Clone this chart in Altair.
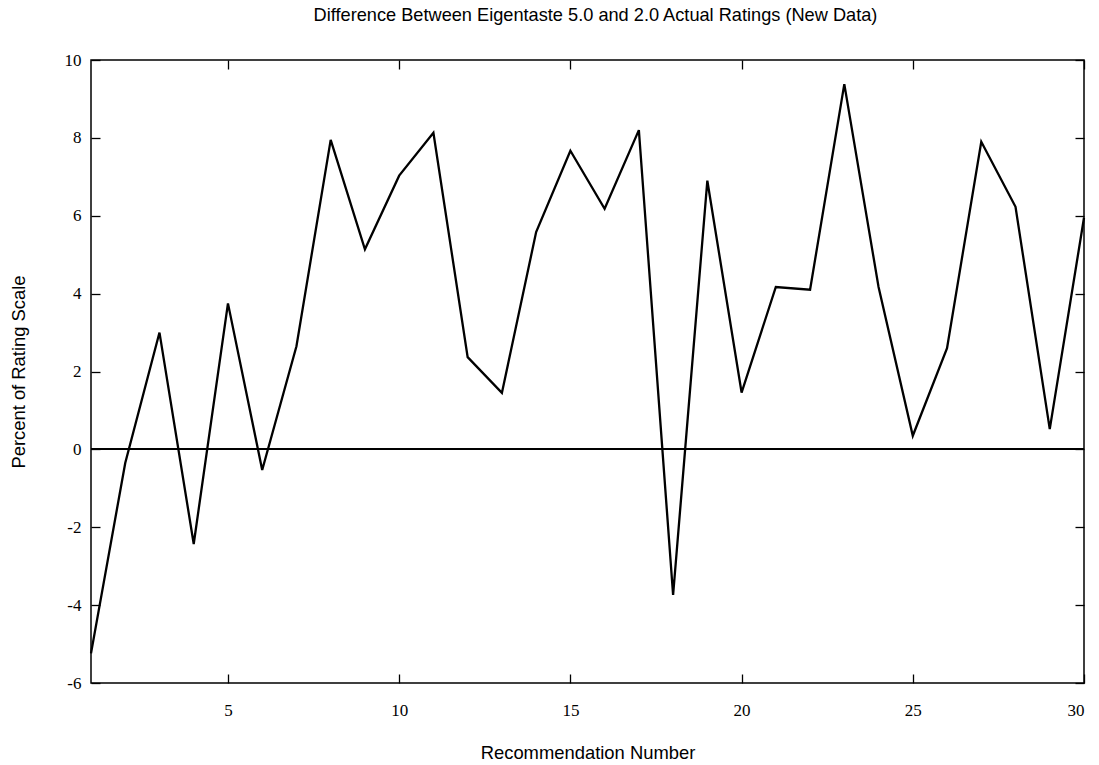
import altair as alt
import pandas as pd

recommendation = list(range(1, 31))
difference = [-5.24, -0.35, 3.0, -2.43, 3.75, -0.53, 2.65, 7.95, 5.14, 7.03,
              8.13, 2.37, 1.45, 5.58, 7.67, 6.18, 8.2, -3.74, 6.9, 1.46,
              4.17, 4.1, 9.38, 4.17, 0.35, 2.6, 7.9, 6.23, 0.52, 5.95]
x_ticks = [5, 10, 15, 20, 25, 30]
y_ticks = [-6, -4, -2, 0, 2, 4, 6, 8, 10]

df = pd.DataFrame({"rec": recommendation, "diff": difference})

SERIF = "Liberation Serif"
SANS = "Liberation Sans"

xscale = alt.Scale(domain=[1, 30], nice=False, zero=False)
yscale = alt.Scale(domain=[-6, 10], nice=False, zero=False)

common_axis = dict(domain=False, grid=False, tickColor="black", tickWidth=1.3,
                   tickSize=9, offset=-9, labelFont=SERIF, labelFontSize=17,
                   labelColor="black", titleFont=SANS, titleFontSize=18.4,
                   titleFontWeight="normal", titleColor="black")

zero = alt.Chart(df).mark_rule(color="black", strokeWidth=1).encode(
    y=alt.datum(0, scale=yscale, axis=None)
)

main = alt.Chart(df).mark_line(color="black", strokeWidth=2.3).encode(
    x=alt.X("rec:Q", scale=xscale,
            axis=alt.Axis(orient="bottom", values=x_ticks, title="Recommendation Number",
                          labelPadding=19, titleBaseline="middle", titleY=78,
                          labelExpr="'' + datum.value", **common_axis)),
    y=alt.Y("diff:Q", scale=yscale,
            axis=alt.Axis(orient="left", values=y_ticks, title="Percent of Rating Scale",
                          labelPadding=10, titleBaseline="middle", titleAngle=-90,
                          titleX=-82, labelExpr="'' + datum.value", **common_axis)),
)

mirror = alt.Chart(df).mark_line(strokeOpacity=0).encode(
    x=alt.X("rec:Q", scale=xscale,
            axis=alt.Axis(orient="top", values=x_ticks, labels=False, title=None, **common_axis)),
    y=alt.Y("diff:Q", scale=yscale,
            axis=alt.Axis(orient="right", values=y_ticks, labels=False, title=None, **common_axis)),
)

chart = alt.layer(zero, main, mirror).properties(
    width=993, height=623,
    autosize="none",
    padding={"left": 91, "top": 60, "right": 15, "bottom": 82},
    title=alt.TitleParams("Difference Between Eigentaste 5.0 and 2.0 Actual Ratings (New Data)",
                          font=SANS, fontSize=18.2, fontWeight="normal", color="black",
                          anchor="middle", baseline="middle", offset=17, dx=8),
).configure(background="white", view=alt.ViewConfig(stroke="black", strokeWidth=1.5))

chart.save("out.html", embed_options={"renderer": "svg", "actions": False})
